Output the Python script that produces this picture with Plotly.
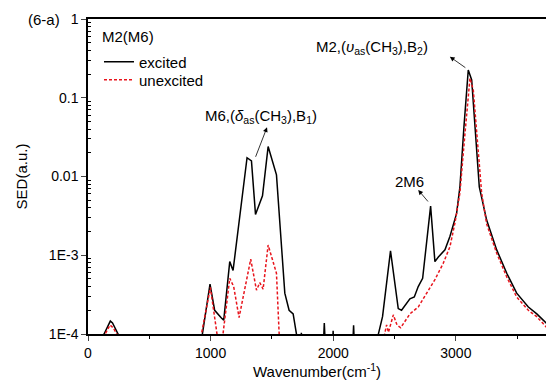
import plotly.graph_objects as go

# ---- data ----
exc_x = [0, 131, 182, 200, 245, 260,
         900, 933, 995, 1033, 1088, 1107, 1156, 1183, 1297, 1333, 1366, 1423, 1469, 1537,
         1605, 1640, 1673, 1700, 1715,
         1732, 1740, 1748,
         1915, 1927, 1940, 1990, 1999, 2008, 2155, 2166, 2176,
         2350, 2368, 2402, 2467, 2530, 2557, 2625, 2661, 2693, 2729, 2794, 2829, 2857,
         2911, 2952, 3006, 3033, 3066, 3101, 3129, 3156, 3191, 3251, 3333, 3415, 3496,
         3591, 3660, 3736, 3800]
exc_y = [5e-5, 1e-4, 1.46e-4, 1.38e-4, 1e-4, 5e-5,
         5e-5, 1e-4, 4.3e-4, 2.0e-4, 1.6e-4, 1.5e-4, 8.3e-4, 6.4e-4, 1.73e-2, 1.58e-2, 3.3e-3, 5.7e-3, 2.4e-2, 1.05e-2,
         3.3e-4, 2.0e-4, 1.8e-4, 1e-4, 5e-5,
         5e-5, 1.04e-4, 5e-5,
         5e-5, 1.38e-4, 5e-5, 5e-5, 1.1e-4, 5e-5, 5e-5, 1.29e-4, 5e-5,
         5e-5, 1e-4, 1.66e-4, 1.14e-3, 2.1e-4, 2.0e-4, 2.8e-4, 2.95e-4, 4.0e-4, 5.1e-4, 4.2e-3, 8.3e-4, 9.5e-4,
         1.17e-3, 1.74e-3, 3.4e-3, 7.4e-3, 4.3e-2, 0.225, 0.168, 4.3e-2, 7.4e-3, 2.8e-3, 1.17e-3, 5.9e-4, 3.3e-4,
         2.2e-4, 1.8e-4, 1.38e-4, 1.1e-4]

unexc_x = [0, 140, 180, 205, 235, 250,
           900, 925, 998, 1052, 1060, 1095, 1101, 1156, 1188, 1232, 1327, 1374, 1401, 1428, 1469,
           1510, 1537, 1559, 1565,
           2400, 2419, 2435, 2450, 2490, 2520, 2550, 2625, 2693, 2762, 2829, 2897, 2952, 2993,
           3033, 3074, 3115, 3142, 3170, 3210, 3251, 3333, 3415, 3496, 3591, 3660, 3736, 3800]
unexc_y = [5e-5, 1e-4, 1.3e-4, 1.2e-4, 1e-4, 5e-5,
           5e-5, 1e-4, 3.9e-4, 1e-4, 5e-5, 5e-5, 1e-4, 5.1e-4, 4.0e-4, 1.62e-4, 8.9e-4, 3.6e-4, 4.5e-4, 3.7e-4, 1.35e-3,
           7.9e-4, 5.9e-4, 1e-4, 5e-5,
           5e-5, 1e-4, 1.3e-4, 1.05e-4, 1.75e-4, 1.3e-4, 1.2e-4, 1.8e-4, 2.2e-4, 3.3e-4, 4.9e-4, 7.9e-4, 1.29e-3, 2.6e-3,
           6.2e-3, 3.5e-2, 0.177, 0.126, 3.5e-2, 6.2e-3, 2.5e-3, 1.06e-3, 5.3e-4, 2.95e-4, 2.0e-4, 1.66e-4, 1.23e-4, 1.0e-4]

x_ticks = [0, 1000, 2000, 3000]
y_tickvals = [1e-4, 1e-3, 1e-2, 1e-1, 1]
y_ticktext = ["1E-4", "1E-3", "0.01", "0.1", "1"]
y_minor = [m * 10.0 ** e for e in range(-4, 0) for m in range(2, 10)]

FONT = "Liberation Sans, Arial, sans-serif"

fig = go.Figure()
fig.add_trace(go.Scatter(x=exc_x, y=exc_y, mode="lines", name="excited",
                         line=dict(color="black", width=1.5), legend="legend"))
fig.add_trace(go.Scatter(x=unexc_x, y=unexc_y, mode="lines", name="unexcited",
                         line=dict(color="#e8141c", width=1.5, dash="3px,2px"), legend="legend2"))

leg_common = dict(xanchor="left", yanchor="middle", bgcolor="rgba(0,0,0,0)",
                  font=dict(size=15), itemwidth=30)
fig.update_layout(
    width=546, height=386,
    margin=dict(l=88, r=0, t=19, b=52, autoexpand=False),
    paper_bgcolor="white", plot_bgcolor="white",
    font=dict(family=FONT, size=14, color="black"),
    showlegend=True,
    legend=dict(x=0.024, y=0.8635, **leg_common),
    legend2=dict(x=0.024, y=0.806, **leg_common),
    xaxis=dict(range=[0, 3735], tickvals=x_ticks, ticks="outside", ticklen=5,
               tickwidth=1, showline=True, linecolor="black", linewidth=1.5,
               mirror=True, showgrid=False, zeroline=False, automargin=False,
               minor=dict(dtick=500, tick0=0, ticks="outside", ticklen=3, tickcolor="black"),
               title=dict(text="Wavenumber(cm<sup>-1</sup>)", standoff=4, font=dict(size=15)),
               tickfont=dict(size=14)),
    yaxis=dict(type="log", range=[-4, 0], tickvals=y_tickvals, ticktext=y_ticktext,
               ticks="outside", ticklen=5, showline=True, linecolor="black", linewidth=1.5,
               mirror=False, showgrid=False, zeroline=False, automargin=False,
               minor=dict(tickvals=y_minor, ticks="inside", ticklen=3, tickcolor="black"),
               title=dict(text="SED(a.u.)", standoff=18, font=dict(size=15)),
               tickfont=dict(size=14)),
)

ann_font = dict(family=FONT, size=15, color="black")
fig.add_annotation(x=-0.136, y=1.0, xref="paper", yref="paper", text="(6-a)",
                   showarrow=False, font=ann_font, yanchor="middle")
fig.add_annotation(x=0.026, y=0.946, xref="paper", yref="paper", text="M2(M6)",
                   showarrow=False, font=ann_font, xanchor="left", yanchor="middle")
fig.add_annotation(x=1409, y=-1.244, xref="x", yref="y", showarrow=False, font=ann_font,
                   text="M6,(<i>δ</i><sub>as</sub>(CH<sub>3</sub>),B<sub>1</sub>)")
fig.add_annotation(x=2315, y=-0.368, xref="x", yref="y", showarrow=False, font=ann_font,
                   text="M2,(<i>υ</i><sub>as</sub>(CH<sub>3</sub>),B<sub>2</sub>)")
fig.add_annotation(x=2625, y=-2.06, xref="x", yref="y", showarrow=False, font=ann_font,
                   text="2M6")
# arrows (head at x,y ; tail offset ax,ay in px)
for hx, hy, ax, ay in [(1460, -1.375, -12, 31), (2951, -0.479, 17, 12), (2693, -2.171, 11, 13)]:
    fig.add_annotation(x=hx, y=hy, xref="x", yref="y", text="", showarrow=True,
                       ax=ax, ay=ay, arrowhead=2, arrowsize=1.2, arrowwidth=0.8,
                       arrowcolor="black")

fig.write_html("out.html", config={"displayModeBar": False},
               post_script="document.body.style.margin='0';")
